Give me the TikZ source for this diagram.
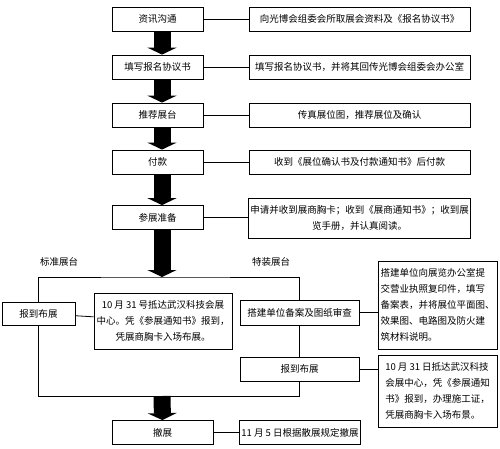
\documentclass[tikz,border=0pt]{standalone}
\usepackage{fontspec}
\setmainfont{Noto Sans CJK SC}
\usetikzlibrary{arrows.meta,positioning}

\begin{document}
\begin{tikzpicture}[
    x=1pt, y=-1pt,
    every node/.style={font=\fontsize{9.5}{16}\selectfont},
    box/.style={rectangle, draw, fill=white, line width=0.8pt, minimum width=91pt, minimum height=24pt, inner sep=2pt, align=center},
    note/.style={rectangle, draw, fill=white, line width=0.8pt, minimum width=221pt, minimum height=24pt, inner sep=2pt, align=center},
    fat/.style={line width=17pt, -{Triangle[width=29pt, length=7pt]}},
    link/.style={line width=0.8pt}
]
    \useasboundingbox (0,0) rectangle (500,448);

    % main column
    \node[box] (zx) at (157.5, 19) {资讯沟通};
    \node[box] (tx) at (157.5, 67) {填写报名协议书};
    \node[box] (tj) at (157.5, 115) {推荐展台};
    \node[box] (fk) at (157.5, 162) {付款};
    \node[box] (cz) at (157.5, 217.5) {参展准备};
    \node[box, minimum width=101pt] (cz2) at (162.5, 432.5) {撤展};

    \node[note] (zxn) at (359.5, 19) {向光博会组委会所取展会资料及《报名协议书》};
    \node[note] (txn) at (359.5, 67) {填写报名协议书，并将其回传光博会组委会办公室};
    \node[note] (tjn) at (359.5, 115) {传真展位图，推荐展位及确认};
    \node[note] (fkn) at (359.5, 162) {收到《展位确认书及付款通知书》后付款};
    \node[note, minimum height=40pt] (czn) at (359.5, 218) {申请并收到展商胸卡；收到《展商通知书》；收到展\\览手册，并认真阅读。};
    \node[note, minimum width=120pt] (cz2n) at (300, 432.5) {11 月 5 日根据散展规定撤展};

    \node (bz) at (59, 262) {标准展台};
    \node (tz) at (271, 262) {特装展台};

    % two branches
    \coordinate (top) at (162, 277);
    \coordinate (bot) at (162, 396);
    \node[box, minimum width=73pt, minimum height=23pt] (bzA) at (38.5, 313.5) {报到布展};
    \node[box, minimum width=138pt, minimum height=56pt] (bzAn) at (163, 321) {10 月 31 号抵达武汉科技会展\\中心。凭《参展通知书》报到，\\凭展商胸卡入场布展。};
    \node[box, minimum width=119pt, minimum height=25pt] (sjsc) at (299.5, 312.5) {搭建单位备案及图纸审查};
    \node[box, minimum width=119pt, minimum height=88pt, align=left] (sjscn) at (437.5, 305) {搭建单位向展览办公室提\\交营业执照复印件，填写\\备案表，并将展位平面图、\\效果图、电路图及防火建\\筑材料说明。};
    \node[box, minimum width=119pt] (bzB) at (299.5, 369) {报到布展};
    \node[box, minimum width=119pt, minimum height=72pt, align=left] (bzBn) at (437.5, 391) {10 月 31 日抵达武汉科技\\会展中心，凭《参展通知\\书》报到，办理施工证，\\凭展商胸卡入场布景。};

    \draw[link] (bzA.north) |- (top) -| (sjsc.north);
    \draw[link] (bzA.south) |- (bot) -| (bzB.south);
    \draw[link] (sjsc) -- (bzB);

    \draw[link] (zx) -- (zxn);
    \draw[link] (tx) -- (txn);
    \draw[link] (tj) -- (tjn);
    \draw[link] (fk) -- (fkn);
    \draw[link] (cz) -- (cz.east -| czn.west);
    \draw[link] (cz2) -- (cz2n);
    \draw[link] (bzA) -- (bzAn);
    \draw[link] (sjsc) -- (sjsc -| sjscn.west);
    \draw[link] (bzB) -- (bzB -| bzBn.west);

    \draw[fat] ([xshift=4.5pt]zx.south) -- ([xshift=4.5pt]tx.north);
    \draw[fat] ([xshift=4.5pt]tx.south) -- ([xshift=4.5pt]tj.north);
    \draw[fat] ([xshift=4.5pt]tj.south) -- ([xshift=4.5pt]fk.north);
    \draw[fat] ([xshift=4.5pt]fk.south) -- ([xshift=4.5pt]cz.north);
    \draw[fat] ([xshift=4.5pt]cz.south) -- (top);
    \draw[fat] (bot) -- (cz2.north);
\end{tikzpicture}
\end{document}
